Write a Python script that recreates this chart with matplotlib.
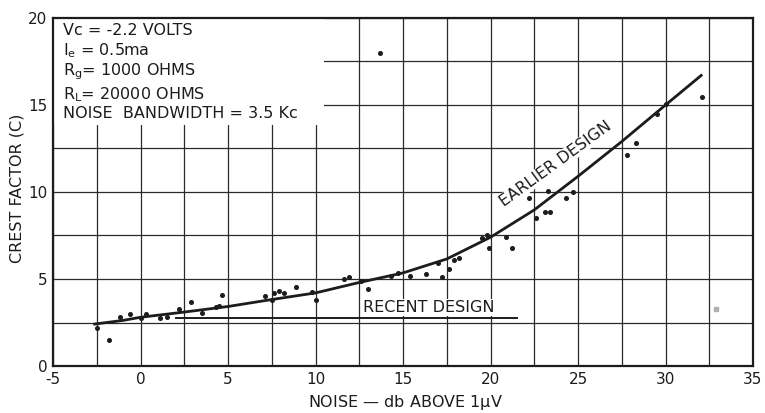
import numpy as np
import matplotlib
matplotlib.use("Agg")
import matplotlib.pyplot as plt
from matplotlib.patches import Rectangle

plt.rcParams['font.family'] = ['DejaVu Sans']
plt.rcParams['mathtext.fontset'] = 'dejavusans'

# Measured crest factor samples (noise level in db above 1 uV, crest factor)
noise_db = [-2.5, -1.8, -1.2, -0.6, 0.0, 0.3, 1.1, 1.5, 2.2, 2.9, 3.5, 4.3, 4.5, 4.65,
            7.1, 7.5, 7.6, 7.9, 8.2, 8.9, 9.8, 10.0, 11.6, 11.9, 12.6, 13.0, 13.7,
            14.3, 14.7, 15.4, 16.3, 17.0, 17.2, 17.6, 17.9, 18.2, 19.5, 19.8, 19.9,
            20.9, 21.2, 22.2, 22.6, 23.1, 23.4, 23.3, 24.3, 24.7, 27.8, 28.3, 29.5,
            30.0, 32.1]
crest = [2.2, 1.5, 2.8, 3.0, 2.75, 3.0, 2.75, 2.8, 3.3, 3.7, 3.05, 3.4, 3.45, 4.1,
         4.0, 3.8, 4.2, 4.3, 4.2, 4.55, 4.25, 3.8, 5.0, 5.1, 4.9, 4.45, 18.0,
         5.2, 5.35, 5.15, 5.3, 5.9, 5.1, 5.6, 6.1, 6.2, 7.35, 7.5, 6.8,
         7.4, 6.8, 9.65, 8.5, 8.85, 8.85, 10.05, 9.65, 10.0, 12.1, 12.8, 14.5,
         15.05, 15.45]

# Faint stray sample
stray_x = [32.9]
stray_y = [3.3]

# Earlier design trend curve
earlier_x = [-2.7, -1.0, 0.0, 2.5, 5.0, 7.5, 10.0, 12.5, 15.0, 17.5, 20.0, 22.5,
             25.0, 27.5, 30.0, 32.1]
earlier_y = [2.4, 2.62, 2.8, 3.1, 3.42, 3.82, 4.2, 4.8, 5.35, 6.15, 7.4, 8.97,
             10.9, 12.9, 15.0, 16.75]

# Recent design level
recent_x = [2.0, 21.5]
recent_y = [2.75, 2.75]

x_ticks = [-5, 0, 5, 10, 15, 20, 25, 30, 35]
y_ticks = [0, 5, 10, 15, 20]

conditions = [
    (19.02, r"Vc = -2.2 VOLTS"),
    (17.88, r"I$_{\mathsf{e}}$ = 0.5ma"),
    (16.72, r"R$_{\mathsf{g}}$= 1000 OHMS"),
    (15.34, r"R$_{\mathsf{L}}$= 20000 OHMS"),
    (14.25, r"NOISE  BANDWIDTH = 3.5 Kc"),
]

ink = "#1c1c1c"
fs = 11.5

fig = plt.figure(figsize=(7.65, 4.13), dpi=100)
ax = fig.add_axes([53 / 765, 47 / 413, 700 / 765, 348 / 413])
ax.set_xlim(-5, 35)
ax.set_ylim(0, 20)

ax.set_xticks(x_ticks)
ax.set_yticks(y_ticks)
ax.set_xticks(np.arange(-5, 35.1, 2.5), minor=True)
ax.set_yticks(np.arange(0, 20.1, 2.5), minor=True)
ax.set_xticklabels([str(v) for v in x_ticks])
ax.set_yticklabels([str(v) for v in y_ticks])
ax.tick_params(which='both', length=0, labelsize=11, colors=ink)
ax.tick_params(axis='x', pad=4)
ax.tick_params(axis='y', pad=4)
ax.set_axisbelow(True)
ax.grid(True, which='both', color='#2a2a2a', linewidth=0.9)
for s in ax.spines.values():
    s.set_linewidth(1.6)
    s.set_color(ink)

# Blank area behind the test conditions
ax.add_patch(Rectangle((-5, 13.85), 15.5, 6.15, facecolor='white',
                       edgecolor='none', zorder=0.8))

ax.plot(earlier_x, earlier_y, color=ink, linewidth=2.0, zorder=3,
        solid_capstyle='butt')
ax.plot(recent_x, recent_y, color=ink, linewidth=1.4, zorder=3)
ax.plot(noise_db, crest, linestyle='none', marker='o', markersize=2.6,
        color=ink, zorder=4)
ax.plot(stray_x, stray_y, linestyle='none', marker='s', markersize=2.6,
        color='#b0b0b0', zorder=4)

for yv, txt in conditions:
    ax.text(-4.45, yv, txt, fontsize=fs, color=ink, ha='left',
            va='baseline', zorder=5)

ax.text(12.7, 3.1, "RECENT DESIGN", fontsize=fs, color=ink, ha='left',
        va='baseline', zorder=5,
        bbox=dict(facecolor='white', edgecolor='none', pad=1.0))
ax.text(23.7, 11.6, "EARLIER DESIGN", fontsize=fs, color=ink, ha='center',
        va='center', rotation=36, rotation_mode='anchor', zorder=5,
        bbox=dict(facecolor='white', edgecolor='none', pad=0.5))

fig.text(17 / 765, 1 - 188 / 413, "CREST FACTOR (C)", rotation=90,
         ha='center', va='center', fontsize=fs, color=ink)
fig.text(405 / 765, 1 - 402 / 413, r"NOISE — db ABOVE 1$\mathsf{\mu}$V",
         ha='center', va='center', fontsize=fs, color=ink)

fig.savefig("out.png", dpi=100, facecolor='white')
